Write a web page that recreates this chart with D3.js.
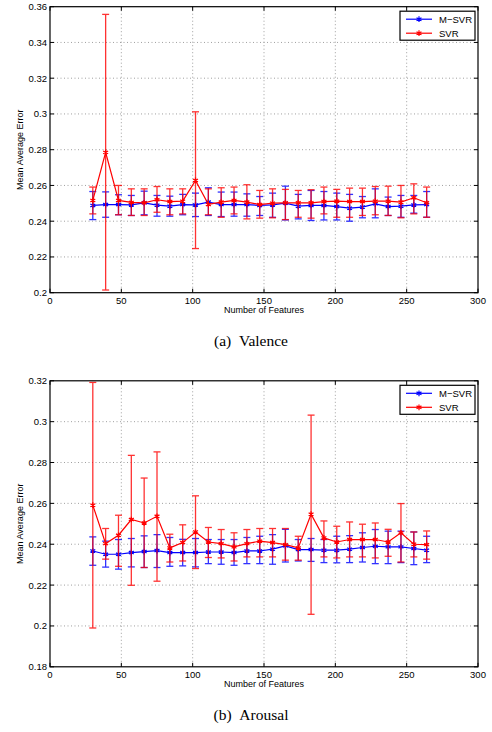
<!DOCTYPE html>
<html>
<head>
<meta charset="utf-8">
<script src="https://cdn.jsdelivr.net/npm/d3@7.9.0/dist/d3.min.js"></script>
<style>
  body { margin: 0; background: #fff; }
  svg { display: block; }
  .tick-label { font-family: "Liberation Sans", Arial, sans-serif; font-size: 9.5px; fill: #000; }
  .axis-title { font-family: "Liberation Sans", Arial, sans-serif; font-size: 9px; fill: #000; }
  .caption { font-family: "Liberation Serif", "Times New Roman", serif; font-size: 15.5px; fill: #000; }
</style>
</head>
<body>
<svg id="chart" width="492" height="732"></svg>
<script>
// number of features (x values shared by both panels)
const features = [30, 39, 48, 57, 66, 75, 84, 93, 102, 111, 120, 129, 138, 147, 156,
  165, 174, 183, 192, 201, 210, 219, 228, 237, 246, 255, 264];

const xTicks = [0, 50, 100, 150, 200, 250, 300];
const valenceYTicks = [0.2, 0.22, 0.24, 0.26, 0.28, 0.3, 0.32, 0.34, 0.36];
const arousalYTicks = [0.18, 0.2, 0.22, 0.24, 0.26, 0.28, 0.3, 0.32];
const seriesNames = ['M\u2212SVR', 'SVR'];

// (a) Valence
const valMsvrMean = [0.2488, 0.2493, 0.2493, 0.2491, 0.2503, 0.249, 0.2484, 0.2493, 0.2491, 0.2507, 0.2493, 0.2493, 0.2493, 0.2488,
  0.2491, 0.2501, 0.2484, 0.2488, 0.2488, 0.2482, 0.2473, 0.2479, 0.2497, 0.2482, 0.2484, 0.2491, 0.2493];
const valMsvrLo = [0.2409, 0.2422, 0.2436, 0.2432, 0.2436, 0.2428, 0.2428, 0.2436, 0.2426, 0.2432, 0.2426, 0.2428, 0.2428, 0.2432,
  0.2422, 0.2407, 0.2413, 0.2404, 0.2407, 0.2407, 0.24, 0.2419, 0.2419, 0.2432, 0.2422, 0.2445, 0.2422];
const valMsvrHi = [0.2566, 0.2564, 0.2548, 0.2544, 0.2568, 0.2544, 0.254, 0.255, 0.2557, 0.2587, 0.2563, 0.2563, 0.2553, 0.2538,
  0.2557, 0.2596, 0.255, 0.2572, 0.2566, 0.2557, 0.255, 0.2538, 0.2581, 0.2535, 0.2544, 0.2544, 0.2566];
const valSvrMean = [0.2516, 0.2785, 0.2516, 0.2505, 0.2503, 0.252, 0.251, 0.2512, 0.2628, 0.2494, 0.2507, 0.2516, 0.2507, 0.2493,
  0.2501, 0.2503, 0.2503, 0.2503, 0.251, 0.2512, 0.251, 0.251, 0.2512, 0.2512, 0.2507, 0.2531, 0.2503];
const valSvrLo = [0.2441, 0.2015, 0.2436, 0.2432, 0.2432, 0.245, 0.2436, 0.2441, 0.2247, 0.2436, 0.2422, 0.2441, 0.2413, 0.2417,
  0.2419, 0.2409, 0.2422, 0.2417, 0.2441, 0.2422, 0.2422, 0.2432, 0.2436, 0.2432, 0.2419, 0.2441, 0.2422];
const valSvrHi = [0.2591, 0.3557, 0.26, 0.2581, 0.2581, 0.2594, 0.2581, 0.2581, 0.3012, 0.2581, 0.2587, 0.2591, 0.2604, 0.2572,
  0.2581, 0.2578, 0.2572, 0.2576, 0.2591, 0.2578, 0.2585, 0.2585, 0.2594, 0.2596, 0.26, 0.2609, 0.2591];

// (b) Arousal
const aroMsvrMean = [0.2367, 0.2351, 0.2351, 0.2359, 0.2364, 0.2369, 0.2359, 0.2359, 0.2359, 0.2362, 0.2362, 0.2359, 0.2367, 0.2367,
  0.2376, 0.2392, 0.2374, 0.2374, 0.2371, 0.2371, 0.2376, 0.2384, 0.239, 0.2387, 0.2387, 0.2379, 0.2371];
const aroMsvrLo = [0.2297, 0.2288, 0.2278, 0.2289, 0.2286, 0.2286, 0.2292, 0.2294, 0.2289, 0.2305, 0.2302, 0.2297, 0.2305, 0.2305,
  0.2302, 0.2313, 0.2318, 0.2316, 0.231, 0.2309, 0.231, 0.2313, 0.2305, 0.2305, 0.231, 0.23, 0.231];
const aroMsvrHi = [0.2436, 0.2415, 0.2423, 0.2428, 0.2441, 0.2447, 0.2433, 0.2424, 0.2428, 0.2423, 0.2423, 0.2423, 0.2433, 0.2439,
  0.2447, 0.2473, 0.2423, 0.2428, 0.2423, 0.2439, 0.2442, 0.2456, 0.2472, 0.2464, 0.2464, 0.246, 0.2439];
const aroSvrMean = [0.2591, 0.2403, 0.2444, 0.2521, 0.2504, 0.2537, 0.2382, 0.2408, 0.246, 0.2411, 0.2403, 0.2387, 0.2403, 0.2415,
  0.2408, 0.2398, 0.2382, 0.2547, 0.2431, 0.2411, 0.2423, 0.2423, 0.2423, 0.2411, 0.2456, 0.24, 0.2398];
const aroSvrLo = [0.199, 0.2327, 0.2292, 0.2199, 0.2286, 0.2219, 0.2313, 0.2318, 0.2281, 0.2335, 0.2333, 0.2318, 0.2338, 0.2338,
  0.2338, 0.2322, 0.2322, 0.2057, 0.2338, 0.2333, 0.2338, 0.2338, 0.2333, 0.2341, 0.2313, 0.2338, 0.2327];
const aroSvrHi = [0.3192, 0.2477, 0.2542, 0.2835, 0.2724, 0.2852, 0.2449, 0.2495, 0.2637, 0.2482, 0.2472, 0.2456, 0.2472, 0.2477,
  0.2477, 0.2477, 0.2439, 0.3032, 0.2514, 0.2488, 0.2509, 0.2498, 0.2504, 0.2473, 0.2599, 0.246, 0.2465];

const colors = ['#0000ff', '#ff0000'];
const svg = d3.select('#chart');

function drawPanel(top, yDomain, yTicks, series, caption) {
  const left = 50, right = 478, h = 286;
  const x = d3.scaleLinear().domain([0, 300]).range([left, right]);
  const y = d3.scaleLinear().domain(yDomain).range([top + h, top]);
  const g = svg.append('g');

  // dotted grid
  g.selectAll('.gx').data(xTicks.slice(1, -1)).join('line')
    .attr('x1', d => x(d)).attr('x2', d => x(d))
    .attr('y1', top).attr('y2', top + h)
    .attr('stroke', '#888').attr('stroke-width', 0.8).attr('stroke-dasharray', '1,2.5');
  g.selectAll('.gy').data(yTicks.slice(1, -1)).join('line')
    .attr('x1', left).attr('x2', right)
    .attr('y1', d => y(d)).attr('y2', d => y(d))
    .attr('stroke', '#888').attr('stroke-width', 0.8).attr('stroke-dasharray', '1,2.5');

  // inward ticks on all four sides
  const tl = 4;
  xTicks.forEach(t => {
    g.append('line').attr('x1', x(t)).attr('x2', x(t)).attr('y1', top + h).attr('y2', top + h - tl).attr('stroke', '#000');
    g.append('line').attr('x1', x(t)).attr('x2', x(t)).attr('y1', top).attr('y2', top + tl).attr('stroke', '#000');
  });
  yTicks.forEach(t => {
    g.append('line').attr('x1', left).attr('x2', left + tl).attr('y1', y(t)).attr('y2', y(t)).attr('stroke', '#000');
    g.append('line').attr('x1', right).attr('x2', right - tl).attr('y1', y(t)).attr('y2', y(t)).attr('stroke', '#000');
  });

  // series: error bars, line, markers
  const cap = 3.5;
  const star = d3.symbol().type(d3.symbolAsterisk).size(22);
  series.forEach((s, si) => {
    const c = colors[si];
    const eb = g.append('g').attr('stroke', c).attr('stroke-width', 1.3).attr('opacity', 0.8);
    features.forEach((f, i) => {
      const cx = x(f);
      eb.append('line').attr('x1', cx).attr('x2', cx).attr('y1', y(s.lo[i])).attr('y2', y(s.hi[i]));
      eb.append('line').attr('x1', cx - cap).attr('x2', cx + cap).attr('y1', y(s.lo[i])).attr('y2', y(s.lo[i]));
      eb.append('line').attr('x1', cx - cap).attr('x2', cx + cap).attr('y1', y(s.hi[i])).attr('y2', y(s.hi[i]));
    });
    const line = d3.line().x((d, i) => x(features[i])).y(d => y(d));
    g.append('path').attr('d', line(s.mean)).attr('fill', 'none').attr('stroke', c).attr('stroke-width', 1.2);
    g.selectAll(null).data(s.mean).join('path')
      .attr('transform', (d, i) => `translate(${x(features[i])},${y(d)})`)
      .attr('d', star).attr('fill', 'none').attr('stroke', c).attr('stroke-width', 1.3);
  });

  // frame
  g.append('rect').attr('x', left).attr('y', top).attr('width', right - left).attr('height', h)
    .attr('fill', 'none').attr('stroke', '#000').attr('stroke-width', 1.2);

  // tick labels
  g.selectAll('.xl').data(xTicks).join('text').attr('class', 'tick-label')
    .attr('x', d => x(d)).attr('y', top + h + 11).attr('text-anchor', 'middle').text(d => d);
  g.selectAll('.yl').data(yTicks).join('text').attr('class', 'tick-label')
    .attr('x', left - 3).attr('y', d => y(d) + 3.5).attr('text-anchor', 'end').text(d => d3.format('')(+d.toFixed(2)));

  // axis titles
  g.append('text').attr('class', 'axis-title').attr('x', (left + right) / 2).attr('y', top + h + 20)
    .attr('text-anchor', 'middle').text('Number of Features');
  g.append('text').attr('class', 'axis-title')
    .attr('transform', `translate(23,${top + h / 2}) rotate(-90)`)
    .attr('text-anchor', 'middle').text('Mean Average Error');

  // legend
  const lx = 400, ly = top + 4.5, lw = 75, lh = 29;
  const lg = g.append('g');
  lg.append('rect').attr('x', lx).attr('y', ly).attr('width', lw).attr('height', lh)
    .attr('fill', '#fff').attr('stroke', '#000').attr('stroke-width', 1.2);
  seriesNames.forEach((name, i) => {
    const yy = ly + 8 + i * 14;
    lg.append('line').attr('x1', lx + 6).attr('x2', lx + 32).attr('y1', yy).attr('y2', yy)
      .attr('stroke', colors[i]).attr('stroke-width', 1.2);
    lg.append('path').attr('transform', `translate(${lx + 19},${yy})`).attr('d', star)
      .attr('fill', 'none').attr('stroke', colors[i]).attr('stroke-width', 1.2);
    lg.append('text').attr('class', 'tick-label').attr('x', lx + 39).attr('y', yy + 3.5).text(name);
  });

  // caption
  g.append('text').attr('class', 'caption').attr('x', 251).attr('y', top + h + 53)
    .attr('text-anchor', 'middle').text(caption);
}

drawPanel(6.7, [0.2, 0.36], valenceYTicks, [
  { mean: valMsvrMean, lo: valMsvrLo, hi: valMsvrHi },
  { mean: valSvrMean, lo: valSvrLo, hi: valSvrHi }
], '(a)\u00a0\u00a0Valence');

drawPanel(380.8, [0.18, 0.32], arousalYTicks, [
  { mean: aroMsvrMean, lo: aroMsvrLo, hi: aroMsvrHi },
  { mean: aroSvrMean, lo: aroSvrLo, hi: aroSvrHi }
], '(b)\u00a0\u00a0Arousal');
</script>
</body>
</html>
